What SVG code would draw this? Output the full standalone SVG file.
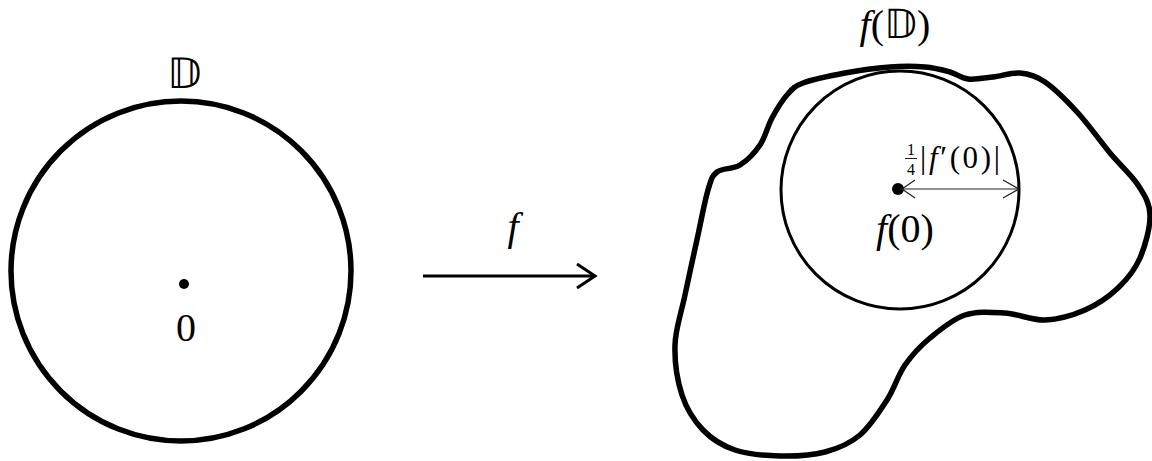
<svg xmlns="http://www.w3.org/2000/svg" width="1152" height="461" viewBox="0 0 1152 461">
<style>
.thick{fill:none;stroke:#000;stroke-width:5.5;stroke-linejoin:round}
.mid{fill:none;stroke:#000;stroke-width:3}
.thin{fill:none;stroke:#222;stroke-width:1.2}
</style>
<rect width="1152" height="461" fill="#fff"/>
<g id="disk">
<circle class="thick" cx="181" cy="271" r="170"/>
<circle cx="184" cy="284" r="5" fill="#000"/>
<text x="184" y="88" font-size="42" text-anchor="middle" style="font-family:'Liberation Serif',serif">𝔻</text>
<text x="186" y="341" font-size="40" text-anchor="middle" style="font-family:'Liberation Serif',serif">0</text>
</g>
<g id="image">
<path class="thick" d="M803,83 C793.3,86.7 792.2,89.2 787,95 C781.8,100.8 776.5,109.7 772,118 C767.5,126.3 765.3,137.2 760,145 C754.7,152.8 747.2,160.5 740,165 C732.8,169.5 722.3,167.8 717,172 C711.7,176.2 711.2,179.5 708,190 C704.8,200.5 701.8,217.5 698,235 C694.2,252.5 688.8,276.7 685,295 C681.2,313.3 675.5,328.3 675,345 C674.5,361.7 677.3,380.8 682,395 C686.7,409.2 694.2,420.8 703,430 C711.8,439.2 722.2,445.7 735,450 C747.8,454.3 765,455.7 780,456 C795,456.3 811.7,455.5 825,452 C838.3,448.5 849.7,443.7 860,435 C870.3,426.3 879.5,411.7 887,400 C894.5,388.3 897.8,375.3 905,365 C912.2,354.7 920,346.3 930,338 C940,329.7 952.5,319.2 965,315 C977.5,310.8 991.7,312.2 1005,313 C1018.3,313.8 1031.7,320.5 1045,320 C1058.3,319.5 1072.8,315.3 1085,310 C1097.2,304.7 1108.8,296.7 1118,288 C1127.2,279.3 1134.7,270.2 1140,258 C1145.3,245.8 1150.3,227.2 1150,215 C1149.7,202.8 1144.7,195.3 1138,185 C1131.3,174.7 1120,165 1110,153 C1100,141 1088.8,124.8 1078,113 C1067.2,101.2 1054.7,88.7 1045,82 C1035.3,75.3 1028.7,73.8 1020,73 C1011.3,72.2 1001.7,76 993,77 C984.3,78 975.2,79.8 968,79 C960.8,78.2 957.2,74 950,72 C942.8,70 935,67.8 925,67 C915,66.2 903.3,66 890,67 C876.7,68 859.5,70.3 845,73 C830.5,75.7 812.7,79.3 803,83 Z"/>
<text x="895" y="38" font-size="40" text-anchor="middle" style="font-family:'Liberation Serif',serif"><tspan font-style="italic">f</tspan>(𝔻)</text>
</g>
<g id="koebe">
<circle class="mid" cx="900" cy="190" r="119"/>
<circle cx="898" cy="189" r="6" fill="#000"/>
<text x="905" y="242" font-size="40" text-anchor="middle" style="font-family:'Liberation Serif',serif"><tspan font-style="italic">f</tspan>(0)</text>
<text x="911" y="155" font-size="16" text-anchor="middle" style="font-family:'Liberation Serif',serif">1</text>
<line x1="905" y1="158.5" x2="917" y2="158.5" stroke="#000" stroke-width="0.9"/>
<text x="911" y="175" font-size="16" text-anchor="middle" style="font-family:'Liberation Serif',serif">4</text>
<text x="920" y="168" font-size="31" textLength="80" lengthAdjust="spacing" style="font-family:'Liberation Serif',serif">|<tspan font-style="italic">f</tspan>′(0)|</text>
</g>
<g id="connectors">
<line class="thin" x1="900" y1="189" x2="1019" y2="189"/>
<polyline class="thin" points="915,180 902,189 915,198"/>
<polyline class="thin" points="1003,180 1019,189 1003,198"/>
<line x1="423" y1="276" x2="593" y2="276" stroke="#000" stroke-width="3"/>
<polyline points="577,264 595,276 577,288" fill="none" stroke="#000" stroke-width="3" stroke-linejoin="miter"/>
<text x="513" y="240" font-size="40" font-style="italic" text-anchor="middle" style="font-family:'Liberation Serif',serif">f</text>
</g>
</svg>
